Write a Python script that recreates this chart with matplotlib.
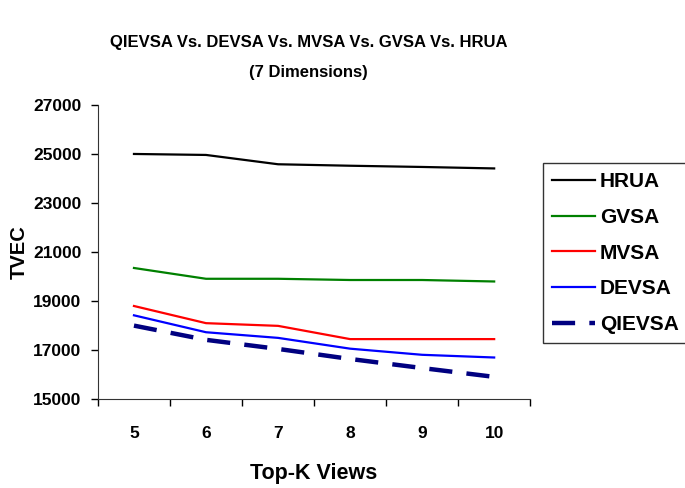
import numpy as np
import matplotlib.pyplot as plt

# Top-K views (categories)
views = ['5', '6', '7', '8', '9', '10']

# TVEC for each method
hrua = [25000, 24960, 24580, 24520, 24470, 24410]
gvsa = [20350, 19910, 19910, 19860, 19860, 19800]
mvsa = [18800, 18100, 17990, 17450, 17450, 17450]
devsa = [18420, 17730, 17500, 17060, 16810, 16700]
qievsa = [18000, 17420, 17050, 16640, 16270, 15910]

plt.rcParams['font.family'] = ['Liberation Sans', 'DejaVu Sans']
plt.rcParams['font.weight'] = 'bold'

fig = plt.figure(figsize=(6.85, 4.88), dpi=100)
ax = fig.add_axes([0.143, 0.182, 0.631, 0.603])

x = np.arange(len(views))
ax.plot(x, hrua, color='black', lw=1.6, label='HRUA')
ax.plot(x, gvsa, color='#008000', lw=1.6, label='GVSA')
ax.plot(x, mvsa, color='#ff0000', lw=1.6, label='MVSA')
ax.plot(x, devsa, color='#0000ff', lw=1.6, label='DEVSA')
ax.plot(x, qievsa, color='#000080', lw=3.2, dashes=(5.2, 3.2), label='QIEVSA')

ax.set_xlim(-0.5, 5.5)
ax.set_ylim(15000, 27000)
ax.set_yticks(range(15000, 27001, 2000))
ax.set_xticks(x)
ax.set_xticklabels(views)
ax.set_xticks(np.arange(-0.5, 6, 1), minor=True)
ax.tick_params(axis='x', which='major', length=0, pad=19, labelsize=12.5)
ax.tick_params(axis='x', which='minor', length=5, width=1, direction='out')
ax.tick_params(axis='y', length=5, width=1, direction='out', pad=7, labelsize=12.5)

for s in ['top', 'right']:
    ax.spines[s].set_visible(False)
for s in ['left', 'bottom']:
    ax.spines[s].set_color('#333333')

ax.set_ylabel('TVEC', fontsize=14.5, fontweight='bold', labelpad=3)
ax.set_xlabel('Top-K Views', fontsize=15.5, fontweight='bold', labelpad=16)
fig.suptitle('QIEVSA Vs. DEVSA Vs. MVSA Vs. GVSA Vs. HRUA\n(7 Dimensions)',
             x=0.45, y=0.928, fontsize=12, fontweight='bold', linespacing=2.2)

leg = fig.legend(loc='upper left', bbox_to_anchor=(0.792, 0.666), fontsize=15,
                 frameon=True, fancybox=False, edgecolor='black', handlelength=2.05,
                 labelspacing=0.8, borderpad=0.45, handletextpad=0.25,
                 borderaxespad=0)
leg.get_frame().set_linewidth(1)

fig.savefig('out.png', dpi=100)
